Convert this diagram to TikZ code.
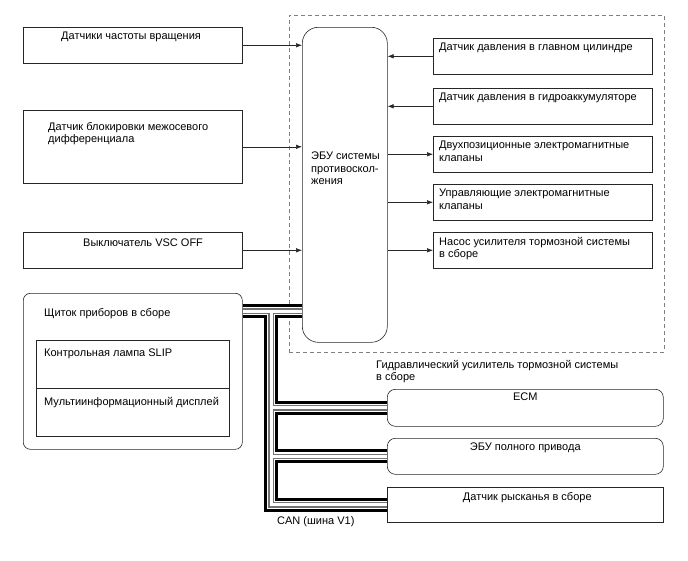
\documentclass[tikz,border=0pt]{standalone}
\usepackage{fontspec}
\setmainfont{Liberation Sans}
\usetikzlibrary{positioning,arrows.meta}

\tikzset{
  box/.style={draw=black!85, line width=0.6pt, rectangle, anchor=north west,
    inner sep=0pt, minimum width=219, minimum height=36},
  wide/.style={box, minimum width=276},
  txt/.style={inner sep=0pt, align=left},
  frame/.style={draw=black!50, line width=0.7pt, dash pattern=on 4pt off 3pt,
    anchor=north west, inner sep=0pt, minimum width=375, minimum height=337},
  link/.style={draw=black!85, line width=0.6pt, ->}
}

\begin{document}
\begin{tikzpicture}[x=1pt, y=-1pt, font=\fontsize{11}{12.5}\selectfont,
  >={Latex[length=6pt,width=4.5pt]}]
\useasboundingbox (0,0) rectangle (688,560);
% Hydraulic booster frame
\node[frame] (hyd) at (289,15) {};
\node[txt, below right=7pt and 87pt of hyd.south west] (hydT)
  {Гидравлический усилитель тормозной системы\\в сборе};
% ECU
\node[box, minimum width=85, minimum height=315, rounded corners=16] (ecu) at (302,27) {};
\node[txt, below right=125pt and 9pt of ecu.north west] (ecuT)
  {ЭБУ системы\\противоскол-\\жения};
% Inputs on the left
\node[box] (spd) at (23,27) {};
\node[txt, below right=5pt and 38pt of spd.north west] (spdT) {Датчики частоты вращения};
\node[box, minimum height=73] (dif) at (23,110) {};
\node[txt, below right=12pt and 25pt of dif.north west] (difT)
  {Датчик блокировки межосевого\\дифференциала};
\node[box] (vsc) at (23,232) {};
\node[txt, below right=7pt and 60pt of vsc.north west] (vscT) {Выключатель VSC OFF};
% Sensors and actuators on the right
\node[box] (mc) at (433,38) {};
\node[txt, below right=5pt and 6pt of mc.north west] (mcT) {Датчик давления в главном цилиндре};
\node[box] (acc) at (433,88) {};
\node[txt, below right=5pt and 6pt of acc.north west] (accT) {Датчик давления в гидроаккумуляторе};
\node[box] (sw) at (433,136) {};
\node[txt, below right=5pt and 6pt of sw.north west] (swT)
  {Двухпозиционные электромагнитные\\клапаны};
\node[box] (ctl) at (433,184) {};
\node[txt, below right=5pt and 6pt of ctl.north west] (ctlT)
  {Управляющие электромагнитные\\клапаны};
\node[box] (pmp) at (433,232) {};
\node[txt, below right=5pt and 6pt of pmp.north west] (pmpT)
  {Насос усилителя тормозной системы\\в сборе};
% Arrows
\draw[link] (spd.east) -- (spd.east -| ecu.west);
\draw[link] (dif.east) -- (dif.east -| ecu.west);
\draw[link] (vsc.east) -- (vsc.east -| ecu.west);
\draw[link] (mc.west) -- (mc.west -| ecu.east);
\draw[link] (acc.west) -- (acc.west -| ecu.east);
\draw[link] (sw.west -| ecu.east) -- (sw.west);
\draw[link] (ctl.west -| ecu.east) -- (ctl.west);
\draw[link] (pmp.west -| ecu.east) -- (pmp.west);
% Combination meter
\node[box, minimum height=156, rounded corners=7] (clu) at (23,293) {};
\node[txt, below right=15pt and 21pt of clu.north west] (cluT) {Щиток приборов в сборе};
\node[box, minimum width=193, minimum height=48] (slip) at (36,340) {};
\node[txt, below right=9pt and 8pt of slip.north west] (slipT) {Контрольная лампа SLIP};
\node[box, minimum width=193, minimum height=48] (mfd) at (36,388) {};
\node[txt, below right=9pt and 8pt of mfd.north west] (mfdT) {Мультиинформационный дисплей};
% Other ECUs on the bus
\node[wide, minimum height=37, rounded corners=8] (ecm) at (387,389) {};
\node[txt, below=4pt of ecm.north] (ecmT) {ECM};
\node[wide, minimum height=36, rounded corners=8] (fwd) at (387,438) {};
\node[txt, below=5pt of fwd.north] (fwdT) {ЭБУ полного привода};
\node[wide, minimum height=35] (yaw) at (387,487) {};
\node[txt, below=5pt of yaw.north, xshift=2pt] (yawT) {Датчик рысканья в сборе};
% CAN bus
\coordinate (trk) at (271,311);
\foreach \w/\c in {14/black, 8/white, 5.5/black!55, 3/white}
  \draw[line width=\w, draw=\c] (clu.east |- trk) -- (ecu.west |- trk)
    (trk) |- (yaw.west)
    (trk |- ecm.west) -- (ecm.west)
    (trk |- fwd.west) -- (fwd.west);
\node[txt, anchor=north west] (canT) at (277,516) {CAN (шина V1)};
\end{tikzpicture}
\end{document}
